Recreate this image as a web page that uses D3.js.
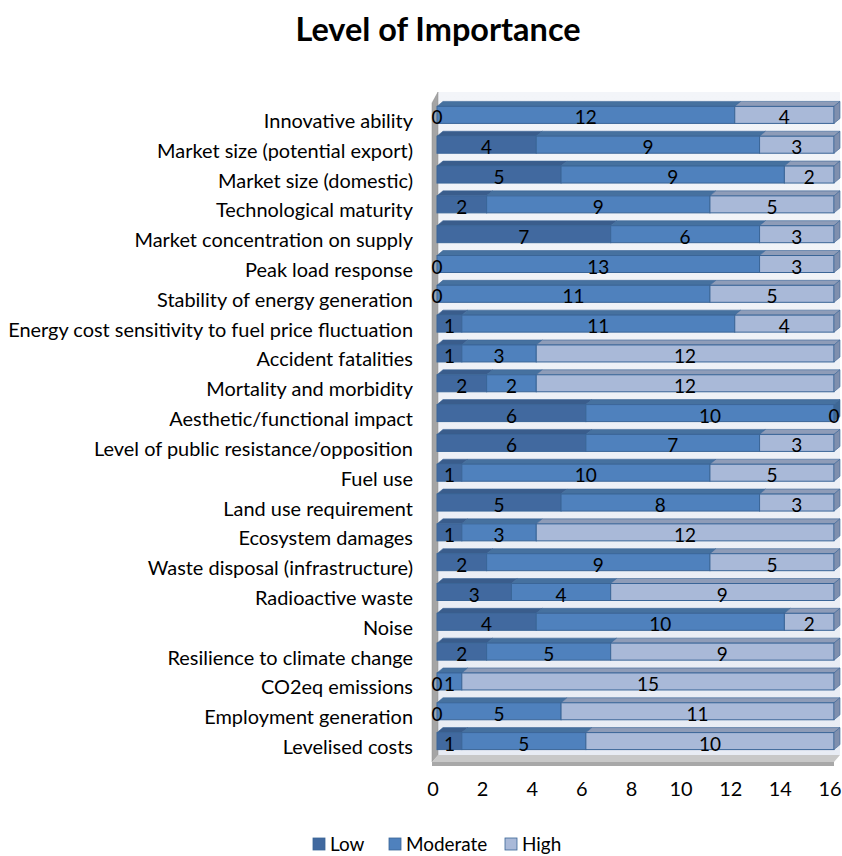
<!DOCTYPE html>
<html><head><meta charset="utf-8">
<script src="https://cdn.jsdelivr.net/npm/d3@7"></script>
<style>body{margin:0;background:#fff}svg{display:block}text{font-family:Lato,"Open Sans",sans-serif}</style>
</head><body>
<svg id="c" width="842" height="856"></svg>
<script>
const categories = ["Innovative ability","Market size (potential export)","Market size (domestic)","Technological maturity","Market concentration on supply","Peak load response","Stability of energy generation","Energy cost sensitivity to fuel price fluctuation","Accident fatalities","Mortality and morbidity","Aesthetic/functional impact","Level of public resistance/opposition","Fuel use","Land use requirement","Ecosystem damages","Waste disposal (infrastructure)","Radioactive waste","Noise","Resilience to climate change","CO2eq emissions","Employment generation","Levelised costs"];
const low      = [0,4,5,2,7,0,0,1,1,2,6,6,1,5,1,2,3,4,2,0,0,1];
const moderate = [12,9,9,9,6,13,11,11,3,2,10,7,10,8,3,9,4,10,5,1,5,5];
const high     = [4,3,2,5,3,3,5,4,12,12,0,3,5,3,12,5,9,2,9,15,11,10];
const seriesNames = ["Low","Moderate","High"];
const xTicks = [0,2,4,6,8,10,12,14,16];
const title = "Level of Importance";

const colors = {Low:"#41699f", Moderate:"#4f81bd", High:"#a9b9d8"};
const topColors = {Low:"#3a5d8c", Moderate:"#46719f", High:"#8e9cb8"};
const sideColors = {Low:"#34547f", Moderate:"#3e6794", High:"#7f8fae"};
const stroke = "#3a6597";

const svg = d3.select("#c");
const x = d3.scaleLinear().domain([0,16]).range([437,834]);
const y = d3.scalePoint().domain(categories).range([100,756]).padding(0.5);
const bh = 17, dx = 6, dy = 5;

const defs = svg.append("defs");
const g1 = defs.append("linearGradient").attr("id","bg").attr("x1",0).attr("x2",0).attr("y1",0).attr("y2",1);
g1.append("stop").attr("offset","0%").attr("stop-color","#f3f5f9");
g1.append("stop").attr("offset","100%").attr("stop-color","#e8ecf4");
svg.append("rect").attr("x",438).attr("y",92).attr("width",402).attr("height",663).attr("fill","url(#bg)");
svg.append("path").attr("d",`M432,103 L438,92 L438,755 L432,762 Z`).attr("fill","#a5a5a5").attr("stroke","#8c8c8c").attr("stroke-width",0.5);
svg.append("path").attr("d",`M432,762 L438,755 L840,755 L834,762 Z`).attr("fill","#c8c8c8");
svg.append("rect").attr("x",432).attr("y",762).attr("width",402).attr("height",4).attr("fill","#a8a8a8");

const stackData = categories.map((c,i)=>({cat:c, Low:low[i], Moderate:moderate[i], High:high[i]}));
const stack = d3.stack().keys(seriesNames)(stackData);

const gb = svg.append("g");
categories.forEach((c,i)=>{
  const cy = y(c), top = cy - bh/2, bot = cy + bh/2;
  stack.forEach(s=>{
    const d = s[i], x0 = x(d[0]), x1 = x(d[1]);
    const name = s.key;
    if (d[1]-d[0] > 0) {
      gb.append("path").attr("d",`M${x0},${top} L${x0+dx},${top-dy} L${x1+dx},${top-dy} L${x1},${top} Z`)
        .attr("fill",topColors[name]).attr("stroke",stroke).attr("stroke-width",0.6);
      gb.append("rect").attr("x",x0).attr("y",top).attr("width",x1-x0).attr("height",bh)
        .attr("fill",colors[name]).attr("stroke",stroke).attr("stroke-width",1);
    }
  });
  const xe = x(stack[2][i][1]);
  const last = high[i]>0 ? "High" : (moderate[i]>0?"Moderate":"Low");
  gb.append("path").attr("d",`M${xe},${top} L${xe+dx},${top-dy} L${xe+dx},${bot-dy} L${xe},${bot} Z`)
    .attr("fill",sideColors[last]).attr("stroke",stroke).attr("stroke-width",0.6);
});

const gl = svg.append("g").attr("font-size",19).attr("fill","#000").attr("text-anchor","middle");
categories.forEach((c,i)=>{
  stack.forEach(s=>{
    const d = s[i];
    gl.append("text").attr("x",(x(d[0])+x(d[1]))/2).attr("y",y(c)+2).attr("dominant-baseline","central").text(d[1]-d[0]);
  });
});

const cl = svg.append("g").selectAll("text").data(categories).join("text")
  .attr("x",413).attr("y",d=>y(d)+5).attr("text-anchor","end").attr("dominant-baseline","central")
  .attr("font-size",17).attr("fill","#000").text(d=>d);
let maxW = 0; cl.each(function(){ maxW = Math.max(maxW, this.getComputedTextLength()); });
const fs = 17 * 405 / maxW;
cl.attr("font-size", fs);

svg.append("g").selectAll("text").data(xTicks).join("text")
  .attr("x",d=>x(d)-4).attr("y",788).attr("text-anchor","middle").attr("dominant-baseline","central")
  .attr("font-size",fs).text(d=>d);

svg.append("text").attr("x",438).attr("y",28).attr("text-anchor","middle").attr("dominant-baseline","central")
  .attr("font-size",26 * 282/226).attr("font-weight","bold").text(title);

const legX = [313,389,505];
const lg = svg.append("g");
seriesNames.forEach((n,i)=>{
  lg.append("rect").attr("x",legX[i]).attr("y",838).attr("width",12).attr("height",12).attr("fill",colors[n]).attr("stroke",stroke).attr("stroke-width",0.8);
  lg.append("text").attr("x",legX[i]+17).attr("y",843).attr("dominant-baseline","central").attr("font-size",fs*0.95).text(n);
});
</script>
</body></html>
